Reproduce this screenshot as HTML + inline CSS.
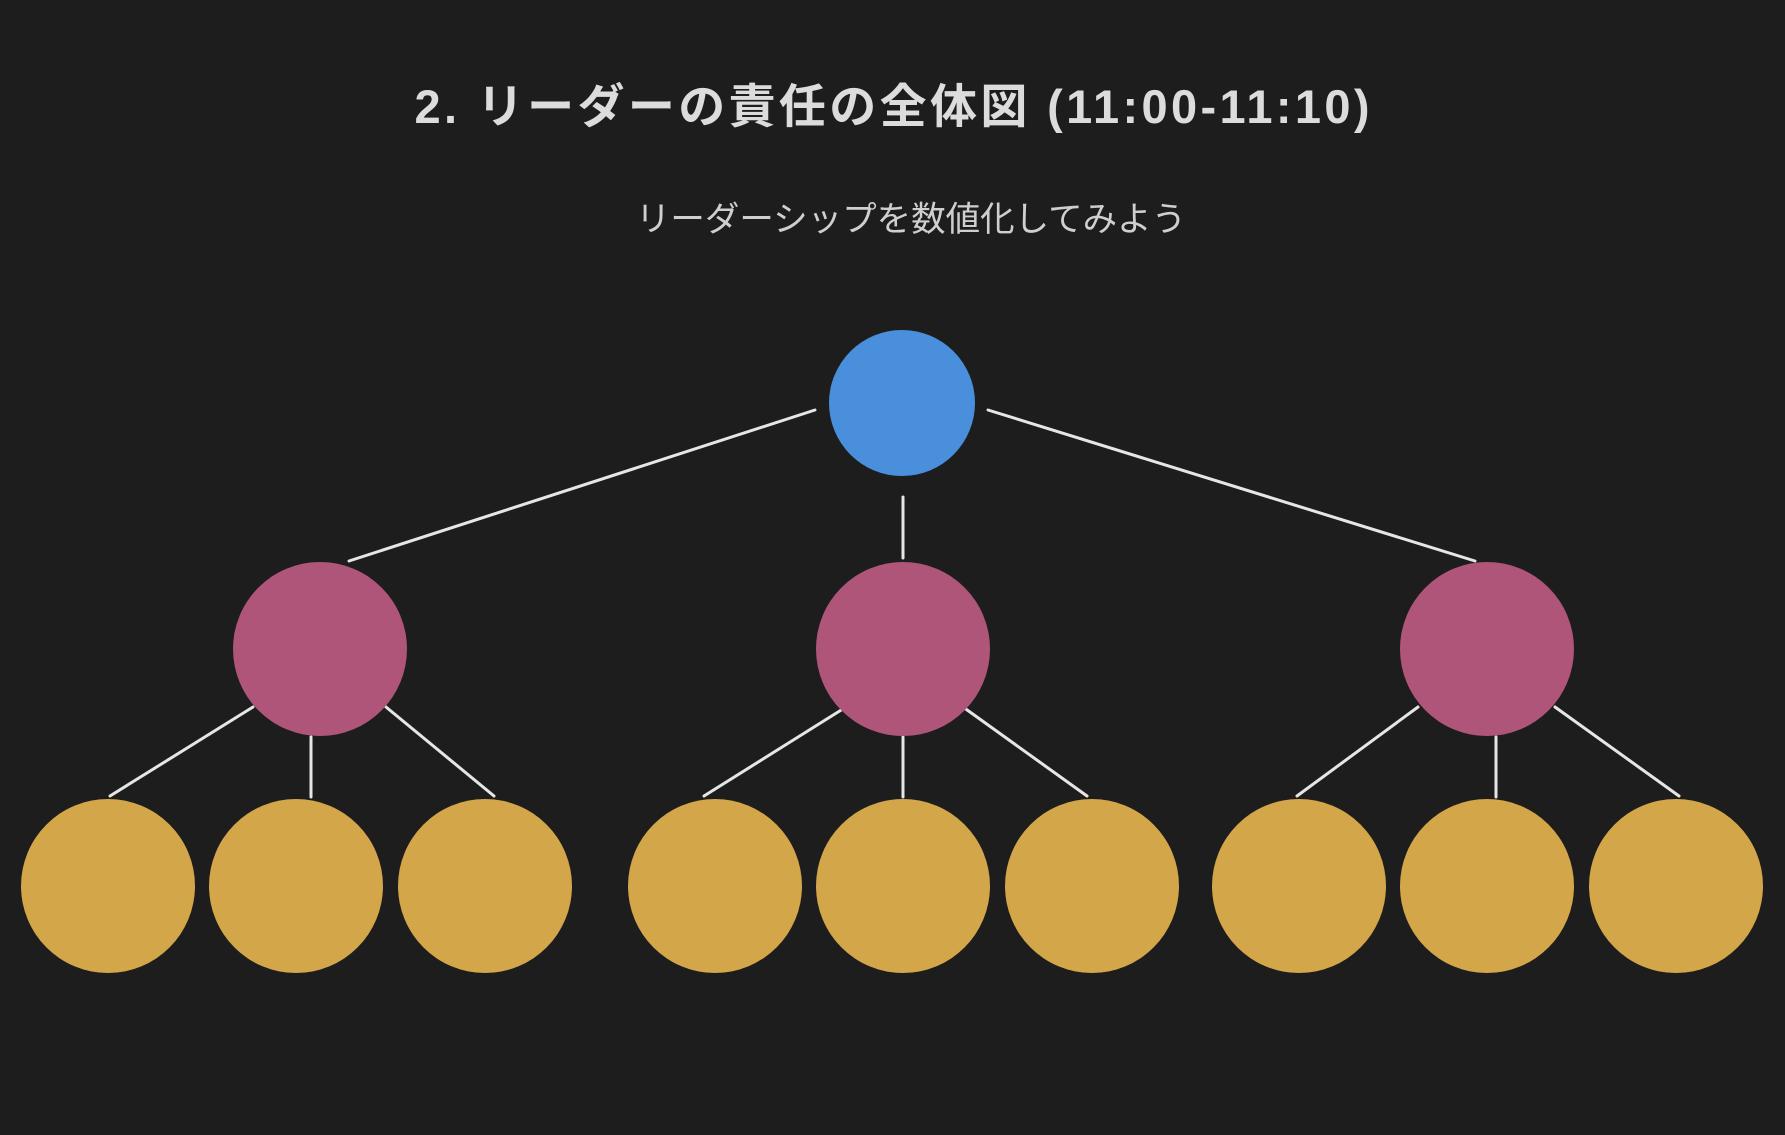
<!DOCTYPE html>
<html><head><meta charset="utf-8"><style>
html,body{margin:0;padding:0;background:#1d1d1d;width:1785px;height:1135px;overflow:hidden}
</style></head><body>
<svg width="1785" height="1135" xmlns="http://www.w3.org/2000/svg">
<rect width="1785" height="1135" fill="#1d1d1d"/>
<text x="892" y="123" text-anchor="middle" font-family="Liberation Sans, Noto Sans CJK JP, sans-serif" font-size="47" font-weight="bold" fill="#dcdcdc" textLength="955" lengthAdjust="spacing">2. リーダーの責任の全体図 (11:00-11:10)</text>
<text x="911" y="231" text-anchor="middle" font-family="Liberation Sans, Noto Sans CJK JP, sans-serif" font-size="34.5" fill="#cfcfcf">リーダーシップを数値化してみよう</text>
<g stroke="#e6e6e6" stroke-width="3" stroke-linecap="round">
<line x1="815" y1="410" x2="349" y2="561"/>
<line x1="988" y1="410" x2="1475" y2="561"/>
<line x1="903" y1="497" x2="903" y2="558"/>
<line x1="253" y1="707" x2="110" y2="796"/>
<line x1="311" y1="737" x2="311" y2="797"/>
<line x1="386" y1="707" x2="494" y2="796"/>
<line x1="846" y1="707" x2="704" y2="796"/>
<line x1="903" y1="737" x2="903" y2="797"/>
<line x1="963" y1="707" x2="1087" y2="796"/>
<line x1="1418" y1="707" x2="1297" y2="796"/>
<line x1="1496" y1="737" x2="1496" y2="797"/>
<line x1="1555" y1="707" x2="1679" y2="796"/>
</g>
<circle cx="902" cy="403" r="73" fill="#4a8fdb"/>
<g fill="#b0557a">
<circle cx="320" cy="649" r="87"/><circle cx="903" cy="649" r="87"/><circle cx="1487" cy="649" r="87"/>
</g>
<g fill="#d4a64a">
<circle cx="108" cy="886" r="87"/><circle cx="296" cy="886" r="87"/><circle cx="485" cy="886" r="87"/>
<circle cx="715" cy="886" r="87"/><circle cx="903" cy="886" r="87"/><circle cx="1092" cy="886" r="87"/>
<circle cx="1299" cy="886" r="87"/><circle cx="1487" cy="886" r="87"/><circle cx="1676" cy="886" r="87"/>
</g>
</svg>
</body></html>
